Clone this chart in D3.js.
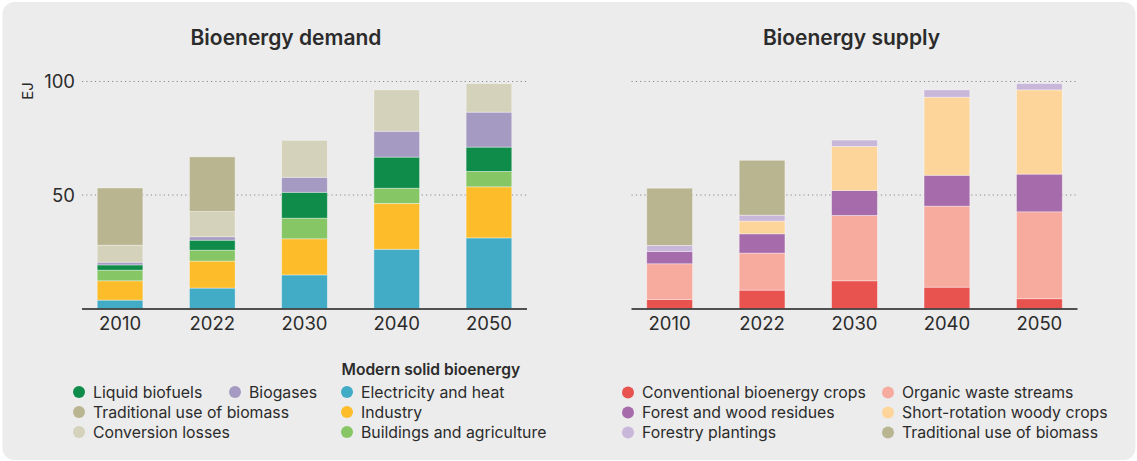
<!DOCTYPE html>
<html lang="en">

<head>
  <meta charset="utf-8">
  <title>Bioenergy demand and supply</title>
  <script src="https://d3js.org/d3.v7.min.js"></script>
  <style>
    body { margin: 0; background: #fff; }
    text { font-family: Inter, "Noto Sans", sans-serif; fill: #2b2b2b; }
  </style>
</head>

<body>
  <script>
    var W = 1137, H = 461;

    // data (EJ)
    var years = ['2010', '2022', '2030', '2040', '2050'];
    var yTicks = [50, 100];

    var demandKeys = ['Electricity and heat', 'Industry', 'Buildings and agriculture', 'Liquid biofuels', 'Biogases', 'Conversion losses', 'Traditional use of biomass'];
    var electricity = [3.7, 9.0, 14.8, 26.1, 31.1];
    var industry = [8.5, 11.9, 15.9, 20.2, 22.5];
    var buildings = [4.7, 4.8, 9.1, 6.7, 6.8];
    var liquidBiofuels = [2.3, 4.4, 11.4, 13.7, 10.7];
    var biogases = [1.2, 1.5, 6.6, 11.4, 15.4];
    var conversionLosses = [7.5, 11.1, 16.3, 18.2, 12.6];
    var traditionalDemand = [25.2, 24.1, 0, 0, 0];

    var supplyKeys = ['Conventional bioenergy crops', 'Organic waste streams', 'Forest and wood residues', 'Short-rotation woody crops', 'Forestry plantings', 'Traditional use of biomass'];
    var conventionalCrops = [4.0, 8.1, 12.2, 9.4, 4.3];
    var organicWaste = [15.7, 16.3, 28.8, 35.7, 38.3];
    var forestResidues = [5.4, 8.5, 11.0, 13.6, 16.6];
    var shortRotation = [0, 5.6, 19.4, 34.4, 37.1];
    var forestryPlantings = [2.7, 2.6, 2.8, 3.2, 2.8];
    var traditionalSupply = [25.2, 24.2, 0, 0, 0];

    var colors = {
      'Electricity and heat': '#42abc6',
      'Industry': '#fdbd2a',
      'Buildings and agriculture': '#86c665',
      'Liquid biofuels': '#108c4a',
      'Biogases': '#a59ac2',
      'Conversion losses': '#d4d2ba',
      'Traditional use of biomass': '#bab591',
      'Conventional bioenergy crops': '#e8524f',
      'Organic waste streams': '#f7aa9e',
      'Forest and wood residues': '#a66bab',
      'Short-rotation woody crops': '#fdd59a',
      'Forestry plantings': '#c9b7d9'
    };

    function buildRows(keys, series) {
      return years.map(function(y, i) {
        var row = { year: y };
        keys.forEach(function(k, j) { row[k] = series[j][i]; });
        return row;
      });
    }
    var demandRows = buildRows(demandKeys, [electricity, industry, buildings, liquidBiofuels, biogases, conversionLosses, traditionalDemand]);
    var supplyRows = buildRows(supplyKeys, [conventionalCrops, organicWaste, forestResidues, shortRotation, forestryPlantings, traditionalSupply]);

    var svg = d3.select('body').append('svg')
      .attr('width', W)
      .attr('height', H);

    svg.append('rect')
      .attr('x', 2.5).attr('y', 2)
      .attr('width', 1133).attr('height', 458)
      .attr('rx', 12)
      .style('fill', '#ececec');

    var y = d3.scaleLinear().domain([0, 100]).range([308.5, 81.5]);

    function drawPanel(title, rows, keys, x0, x1, titleX, showYAxis) {
      var g = svg.append('g');
      var x = d3.scaleBand()
        .domain(years)
        .range([x0, x1])
        .paddingInner(0.505)
        .paddingOuter(0.165);

      // dotted grid
      g.selectAll('.grid')
        .data(yTicks)
      .enter().append('line')
        .attr('x1', x0).attr('x2', x1)
        .attr('y1', function(d){ return y(d); })
        .attr('y2', function(d){ return y(d); })
        .style('stroke', '#8a8a8a')
        .style('stroke-width', 1.2)
        .style('stroke-dasharray', '1.2,3.1');

      var stacked = d3.stack().keys(keys)(rows);
      g.selectAll('.layer')
        .data(stacked)
      .enter().append('g')
        .style('fill', function(d){ return colors[d.key]; })
        .selectAll('rect')
        .data(function(d){ return d.filter(function(p){ return p[1] - p[0] > 0; }); })
      .enter().append('rect')
        .attr('x', function(d){ return x(d.data.year); })
        .attr('y', function(d){ return y(d[1]); })
        .attr('width', x.bandwidth())
        .attr('height', function(d){ return y(d[0]) - y(d[1]); })
        .style('stroke', 'rgba(255,255,255,0.45)')
        .style('stroke-width', 0.8);

      // baseline
      g.append('line')
        .attr('x1', x0).attr('x2', x1)
        .attr('y1', y(0) + 0.5).attr('y2', y(0) + 0.5)
        .style('stroke', '#1e1e1e')
        .style('stroke-width', 1.6);

      g.selectAll('.xlab')
        .data(years)
      .enter().append('text')
        .attr('x', function(d){ return x(d) + x.bandwidth() / 2; })
        .attr('y', 329.5)
        .attr('text-anchor', 'middle')
        .style('font-size', '18.5px')
        .text(function(d){ return d; });

      g.append('text')
        .attr('x', titleX).attr('y', 45)
        .attr('text-anchor', 'middle')
        .style('font-size', '21px')
        .style('font-weight', 600)
        .text(title);

      if (showYAxis) {
        g.selectAll('.ylab')
          .data(yTicks)
        .enter().append('text')
          .attr('x', 75)
          .attr('y', function(d){ return y(d) + 6.5; })
          .attr('text-anchor', 'end')
          .style('font-size', '18.5px')
          .text(function(d){ return d; });
        g.append('text')
          .attr('transform', 'translate(33,91) rotate(-90)')
          .attr('text-anchor', 'middle')
          .style('font-size', '15px')
          .text('EJ');
      }
    }

    drawPanel('Bioenergy demand', demandRows, demandKeys, 82, 527, 286, true);
    drawPanel('Bioenergy supply', supplyRows, supplyKeys, 631.5, 1077.5, 851.5, false);

    // legends
    var demandLegend = [
      { key: 'Liquid biofuels', cx: 79, cy: 392 },
      { key: 'Biogases', cx: 235, cy: 392 },
      { key: 'Traditional use of biomass', cx: 79, cy: 412 },
      { key: 'Conversion losses', cx: 79, cy: 432 },
      { key: 'Electricity and heat', cx: 347, cy: 392 },
      { key: 'Industry', cx: 347, cy: 412 },
      { key: 'Buildings and agriculture', cx: 347, cy: 432 }
    ];
    var supplyLegend = [
      { key: 'Conventional bioenergy crops', cx: 628, cy: 392.5 },
      { key: 'Forest and wood residues', cx: 628, cy: 412.5 },
      { key: 'Forestry plantings', cx: 628, cy: 432.5 },
      { key: 'Organic waste streams', cx: 888, cy: 392.5 },
      { key: 'Short-rotation woody crops', cx: 888, cy: 412.5 },
      { key: 'Traditional use of biomass', cx: 888, cy: 432.5 }
    ];

    var items = svg.selectAll('.legend')
      .data(demandLegend.concat(supplyLegend))
    .enter().append('g')
      .attr('transform', function(d){ return 'translate(' + [d.cx, d.cy] + ')'; });
    items.append('circle')
      .attr('r', 6)
      .style('fill', function(d){ return colors[d.key]; });
    items.append('text')
      .attr('x', 14)
      .attr('y', 5.8)
      .style('font-size', '15.8px')
      .text(function(d){ return d.key; });

    svg.append('text')
      .attr('x', 341.5).attr('y', 374.5)
      .style('font-size', '15.6px')
      .style('font-weight', 600)
      .text('Modern solid bioenergy');
  </script>
</body>

</html>
